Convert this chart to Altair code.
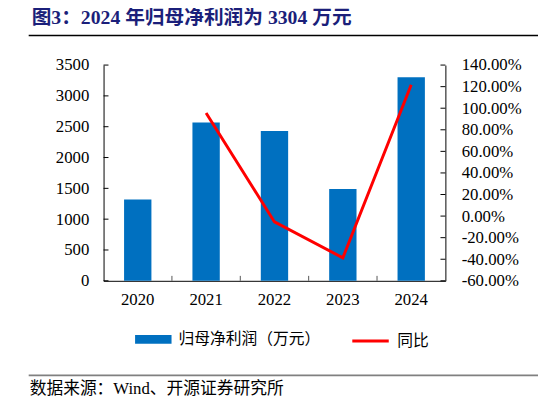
import altair as alt
import pandas as pd

years = ['2020', '2021', '2022', '2023', '2024']
profit = [1320, 2570, 2430, 1490, 3304]
yoy_years = ['2021', '2022', '2023', '2024']
yoy = [95.5, -5.4, -38.7, 121.7]

left_ticks = [0, 500, 1000, 1500, 2000, 2500, 3000, 3500]
right_ticks = [-60, -40, -20, 0, 20, 40, 60, 80, 100, 120, 140]

title_text = '图3：2024 年归母净利润为 3304 万元'
source_text = '数据来源：Wind、开源证券研究所'
bar_name = '归母净利润（万元）'
line_name = '同比'

W, H = 347, 219
STEP = W / 5
SERIF = 'Liberation Serif'
CJK = 'Noto Sans CJK SC'

bar_df = pd.DataFrame({'year': years, 'profit': profit, 's': bar_name})
line_df = pd.DataFrame({'year': yoy_years, 'yoy': yoy, 's': line_name})

x_scale = alt.Scale(domain=years, paddingInner=0.6, paddingOuter=0.3)
y_left = alt.Scale(domain=[0, 3500])
y_right = alt.Scale(domain=[-60, 140])

x_axis = alt.Axis(title=None, labelAngle=0, tickSize=0, labelPadding=11)
left_axis = alt.Axis(title=None, orient='left', values=left_ticks, format='d',
                     tickSize=0, labelPadding=15, labelOverlap=False)
right_axis = alt.Axis(title=None, orient='right', values=right_ticks,
                      tickSize=0, labelPadding=16, labelOverlap=False,
                      labelExpr="(datum.value < 0 ? '-' : '') + format(abs(datum.value), '.2f') + '%'")

bars = alt.Chart(bar_df).mark_bar(color='#0070C0').encode(
    x=alt.X('year:N', scale=x_scale, axis=x_axis),
    y=alt.Y('profit:Q', scale=y_left, axis=left_axis),
    color=alt.Color('s:N', scale=alt.Scale(domain=[bar_name], range=['#0070C0']),
                    legend=alt.Legend(title=None, orient='none', legendX=32, legendY=260,
                                      symbolType='M-1,-0.24H1V0.24H-1Z', symbolSize=1369,
                                      symbolStrokeWidth=0, labelFont=CJK, labelFontSize=16,
                                      labelOffset=7, padding=0, labelColor='black'))
)

lt = alt.Chart(pd.DataFrame({'v': left_ticks})).mark_rule(color='black').encode(
    y=alt.Y('v:Q', scale=y_left, axis=left_axis),
    x=alt.value(0), x2=alt.value(5)
)

# inner ticks on the category axis, halfway between the bars
xt = alt.Chart(pd.DataFrame({'year': years[1:]})).mark_rule(
    color='#555555', xOffset=-0.3 * STEP
).encode(
    x=alt.X('year:N', scale=x_scale, bandPosition=0, axis=x_axis),
    y=alt.value(H - 5), y2=alt.value(H)
)

line = alt.Chart(line_df).mark_line(strokeWidth=3).encode(
    x=alt.X('year:N', scale=x_scale, axis=x_axis),
    y=alt.Y('yoy:Q', scale=y_right, axis=right_axis),
    stroke=alt.Stroke('s:N', scale=alt.Scale(domain=[line_name], range=['#FF0000']),
                      legend=alt.Legend(title=None, orient='none', legendX=251, legendY=260,
                                        symbolType='stroke', symbolSize=1369,
                                        symbolStrokeWidth=3, labelFont=CJK, labelFontSize=16,
                                        labelOffset=7, padding=0, labelColor='black'))
)

rt = alt.Chart(pd.DataFrame({'v': right_ticks})).mark_rule(color='black').encode(
    y=alt.Y('v:Q', scale=y_right, axis=right_axis),
    x=alt.value(W - 5), x2=alt.value(W)
)

# decorations: title, rules, source
one = pd.DataFrame({'t': [title_text]})
title = alt.Chart(one).mark_text(
    font=SERIF + ', ' + CJK, fontSize=20, fontWeight='bold', color='#1B1F7A',
    align='left', baseline='middle'
).encode(text='t:N', x=alt.value(-73), y=alt.value(-48))

top_rule = alt.Chart(one).mark_rule(color='black', strokeWidth=1.5).encode(
    x=alt.value(-76), x2=alt.value(441), y=alt.value(-30)
)

bottom_rule = alt.Chart(one).mark_rule(color='#808080', strokeWidth=2).encode(
    x=alt.value(-76), x2=alt.value(441), y=alt.value(315)
)

source = alt.Chart(pd.DataFrame({'t': [source_text]})).mark_text(
    font=SERIF + ', ' + CJK, fontSize=17, color='black', align='left', baseline='middle'
).encode(text='t:N', x=alt.value(-75), y=alt.value(329))

chart = alt.layer(
    alt.layer(bars, lt, xt),
    alt.layer(line, rt),
    title, top_rule, bottom_rule, source
).resolve_scale(
    y='independent', color='independent'
).properties(
    width=W, height=H,
    autosize=alt.AutoSizeParams(type='none'),
    padding={'left': 97, 'top': 55, 'right': 94, 'bottom': 114}
).configure_view(
    stroke=None
).configure_axis(
    grid=False, domainColor='black', domainWidth=1,
    labelFont=SERIF, labelFontSize=17, labelColor='black'
)

chart.save("out.html", embed_options={"renderer": "svg", "actions": False})
